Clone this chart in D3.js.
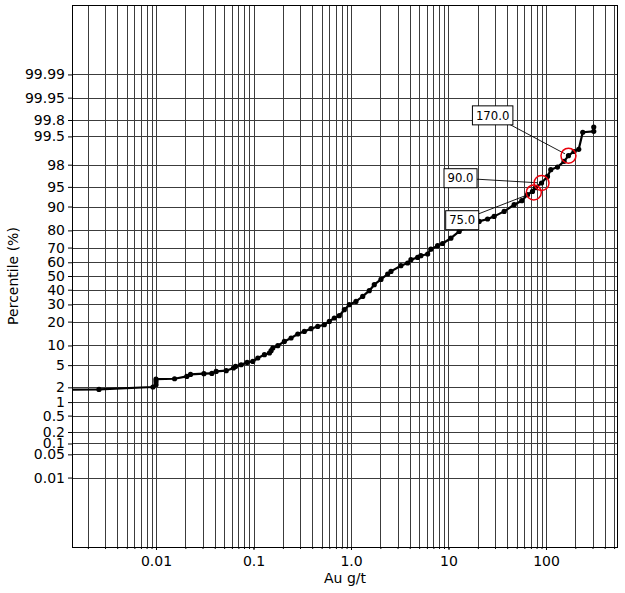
<!DOCTYPE html>
<html><head><meta charset="utf-8">
<script src="https://cdn.jsdelivr.net/npm/d3@7"></script>
<style>body{margin:0;background:#fff}text{font-family:"DejaVu Sans",sans-serif}</style>
</head><body><svg id="c" width="625" height="593"></svg>
<script>
// ---- data (Au g/t vs cumulative percentile) ----
const auValues = [0.001,0.0026,0.0093,0.01,0.01,0.01,0.0155,0.0207,0.0226,0.031,0.0374,0.0414,0.0525,0.0623,0.0654,0.0747,0.086,0.0984,0.1107,0.1294,0.1456,0.1515,0.1577,0.1775,0.2073,0.2428,0.2844,0.3322,0.389,0.456,0.5326,0.599,0.6745,0.7587,0.854,0.961,1.125,1.318,1.54,1.733,2.03,2.377,2.57,3.25,3.81,4.12,4.825,5.21,6.11,6.6,7.73,8.7,10.58,12.87,16.07,20.64,25.16,29.38,37.22,47.1,56.5,64.66,72.7,77.9,90,103.6,112,131.2,153.3,170,194.1,216.7,238.4,309,309];
const percentiles = [1.80,1.82,2.03,2.25,2.56,2.85,2.90,3.20,3.47,3.57,3.62,3.92,4.03,4.48,4.77,5.08,5.55,5.76,6.51,7.32,7.77,8.41,9.20,9.92,11.38,12.63,14.23,15.34,16.55,17.62,18.45,20.12,21.92,23.19,26.70,29.82,31.97,35.33,39.31,43.62,47.5,51.47,53.38,57.53,59.48,61.82,63.43,64.6,65.76,68.95,71.19,72.56,75.72,79.47,82.09,84.31,85.35,86.43,88.34,90.58,91.76,93.32,94.07,94.83,95.69,96.69,97.51,97.78,98.28,98.68,98.92,99.03,99.60,99.62,99.70];
const yTickValues = [0.01,0.05,0.1,0.2,0.5,1,2,5,10,20,30,40,50,60,70,80,90,95,98,99.5,99.8,99.95,99.99];
const yTickLabels = ["0.01","0.05","0.1","0.2","0.5","1","2","5","10","20","30","40","50","60","70","80","90","95","98","99.5","99.8","99.95","99.99"];
const xTickValues = [0.01,0.1,1,10,100];
const xTickLabels = ["0.01","0.1","1.0","10","100"];
const annValues = [75,90,170];
const annPercentiles = [93.85,95.69,98.68];
const annLabels = ["75.0","90.0","170.0"];
const annOffsets = [[-71.6,27.8],[-81,-4.8],[-75.8,-40.3]]; // label box offsets (px)

// ---- inverse normal CDF ----
function norminv(p){
 const a=[-3.969683028665376e+01,2.209460984245205e+02,-2.759285104469687e+02,1.383577518672690e+02,-3.066479806614716e+01,2.506628277459239e+00];
 const b=[-5.447609879822406e+01,1.615858368580409e+02,-1.556989798598866e+02,6.680131188771972e+01,-1.328068155288572e+01];
 const c=[-7.784894002430293e-03,-3.223964580411365e-01,-2.400758277161838e+00,-2.549671348403141e+00,4.374664141464968e+00,2.938163982698783e+00];
 const d=[7.784695709041462e-03,3.224671290700398e-01,2.445134137142996e+00,3.754408661907416e+00];
 const pl=0.02425, ph=1-pl; let q,r;
 if(p<pl){q=Math.sqrt(-2*Math.log(p));return (((((c[0]*q+c[1])*q+c[2])*q+c[3])*q+c[4])*q+c[5])/((((d[0]*q+d[1])*q+d[2])*q+d[3])*q+1);}
 if(p<=ph){q=p-0.5;r=q*q;return (((((a[0]*r+a[1])*r+a[2])*r+a[3])*r+a[4])*r+a[5])*q/(((((b[0]*r+b[1])*r+b[2])*r+b[3])*r+b[4])*r+1);}
 q=Math.sqrt(-2*Math.log(1-p));return -(((((c[0]*q+c[1])*q+c[2])*q+c[3])*q+c[4])*q+c[5])/((((d[0]*q+d[1])*q+d[2])*q+d[3])*q+1);
}

const L=72,R=617,T=5,B=547;
const x = d3.scaleLog().domain([0.001375,535]).range([L,R]);
const z = d3.scaleLinear().domain([-5,5]).range([B,T]);
const y = p => z(norminv(p/100));

const svg = d3.select("#c");
svg.append("rect").attr("width",625).attr("height",593).attr("fill","#fff");

// minor x values
const xMinor=[];
for(let e=-3;e<=2;e++) for(let k=1;k<=9;k++){const v=k*Math.pow(10,e); if(v>=x.domain()[0]&&v<=x.domain()[1]) xMinor.push(v);}

const grid = svg.append("g").attr("stroke","#3c3c3c").attr("stroke-width",1).attr("shape-rendering","crispEdges");
grid.selectAll(".vx").data(xMinor).join("line")
  .attr("x1",d=>Math.round(x(d))+0.5).attr("x2",d=>Math.round(x(d))+0.5).attr("y1",T).attr("y2",B);
grid.selectAll(".hy").data(yTickValues).join("line")
  .attr("y1",d=>Math.round(y(d))+0.5).attr("y2",d=>Math.round(y(d))+0.5).attr("x1",L).attr("x2",R);

// axes
const xAxis = d3.axisBottom(x).tickValues(xTickValues).tickFormat((d,i)=>xTickLabels[i]).tickSize(3).tickPadding(6);
const gx = svg.append("g").attr("transform",`translate(0,${B})`).call(xAxis);
const gxm = svg.append("g").attr("transform",`translate(0,${B})`).call(d3.axisBottom(x).tickValues(xMinor).tickFormat("").tickSize(2));
gxm.select(".domain").remove();
const yAxis = d3.axisLeft(z).tickValues(yTickValues.map(p=>norminv(p/100))).tickFormat((d,i)=>yTickLabels[i]).tickSize(4).tickPadding(3);
const gy = svg.append("g").attr("transform",`translate(${L},0)`).call(yAxis);
[gx,gy].forEach(g=>{g.select(".domain").remove(); g.selectAll("text").attr("font-size",14).attr("fill","#000").attr("font-family","DejaVu Sans");});
svg.selectAll(".tick line").attr("stroke","#000");

svg.append("rect").attr("x",L+0.5).attr("y",T+0.5).attr("width",R-L).attr("height",B-T)
  .attr("fill","none").attr("stroke","#000").attr("stroke-width",1);

// titles
svg.append("text").attr("x",345).attr("y",583).attr("text-anchor","middle").attr("font-size",14).text("Au g/t");
svg.append("text").attr("transform","translate(18,276) rotate(-90)").attr("text-anchor","middle").attr("font-size",14).text("Percentile (%)");

// data
svg.append("clipPath").attr("id","clip").append("rect").attr("x",L).attr("y",T).attr("width",R-L).attr("height",B-T);
const pts = auValues.map((v,i)=>[v,percentiles[i]]);
const dg = svg.append("g").attr("clip-path","url(#clip)");
dg.append("path").datum(pts).attr("fill","none").attr("stroke","#000").attr("stroke-width",2.2).attr("stroke-linejoin","round")
  .attr("d",d3.line().x(d=>x(d[0])).y(d=>y(d[1])));
dg.selectAll("circle").data(pts).join("circle").attr("cx",d=>x(d[0])).attr("cy",d=>y(d[1])).attr("r",2.6).attr("fill","#000");

// annotations
const ag = svg.append("g");
annValues.forEach((v,i)=>{
  const px=x(v), py=y(annPercentiles[i]);
  const cx=px+annOffsets[i][0], cy=py+annOffsets[i][1];
  const t = ag.append("text").attr("x",cx).attr("y",cy).attr("text-anchor","middle").attr("dy","0.36em").attr("font-size",11.7).text(annLabels[i]);
  const bb = t.node().getBBox();
  const w=bb.width+7, h=19;
  const dx=px-cx, dy=py-cy, len=Math.hypot(dx,dy);
  ag.insert("line","text").attr("x1",cx).attr("y1",cy).attr("x2",px-dx/len*4).attr("y2",py-dy/len*4).attr("stroke","#000").attr("stroke-width",0.9);
  ag.insert("rect","text").attr("x",cx-w/2).attr("y",cy-h/2).attr("width",w).attr("height",h).attr("fill","#fff").attr("stroke","#000").attr("stroke-width",1);
  ag.append("circle").attr("cx",px).attr("cy",py).attr("r",7.5).attr("fill","none").attr("stroke","#e8000b").attr("stroke-width",1.5);
});
</script></body></html>
